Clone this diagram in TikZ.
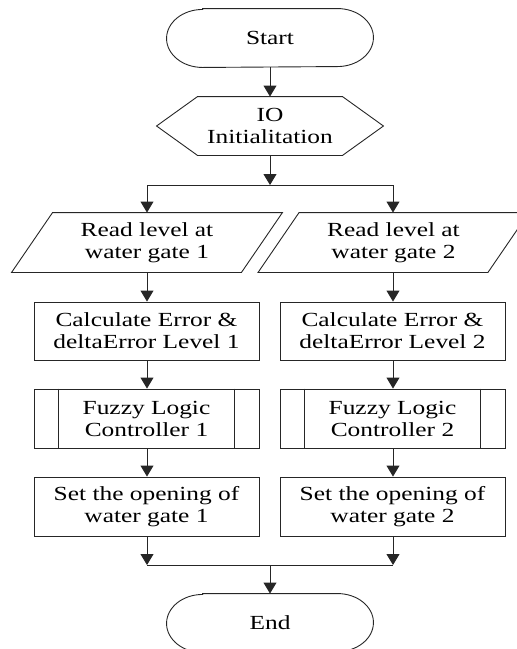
\documentclass[tikz,border=0pt]{standalone}
\usepackage{fontspec}
\setmainfont{Liberation Serif}[FakeStretch=1.27]
\usetikzlibrary{arrows.meta,calc}
\begin{document}
\begin{tikzpicture}[x=1pt,y=-1pt,
  every node/.style={font=\fontsize{20}{22}\selectfont, align=center, inner sep=0pt},
  line width=0.9pt, draw=black!85,
  termnode/.style={minimum width=206pt, minimum height=58pt},
  hexnode/.style={minimum width=226pt, minimum height=58pt},
  ionode/.style={minimum width=229pt, minimum height=59pt},
  procbox/.style={draw, minimum width=225pt, minimum height=58pt},
  arr/.style={-{Triangle[width=13pt,length=11pt]}},
  termshape/.style={insert path={
    ([xshift=36pt]#1.north west) -- ([xshift=-36pt]#1.north east)
    arc[start angle=90,end angle=-90,x radius=36pt,y radius=29pt]
    -- ([xshift=36pt]#1.south west)
    arc[start angle=270,end angle=90,x radius=36pt,y radius=29pt] -- cycle}},
  paraShape/.style={insert path={
    ([xshift=-20.5pt]#1.south west) -- ([xshift=20.5pt]#1.north west)
    -- ([xshift=20.5pt]#1.north east) -- ([xshift=-20.5pt]#1.south east) -- cycle}},
  fuzzyLines/.style={insert path={
    ([xshift=25pt]#1.north west) -- ([xshift=25pt]#1.south west)
    ([xshift=-25pt]#1.north east) -- ([xshift=-25pt]#1.south east)}}
]
\clip (0,0) rectangle (517,649);
\useasboundingbox (0,0) rectangle (517,649);

\node[termnode] (start) at (270,38) {Start};
\draw[termshape=start];

\node[hexnode] (io) at (270,126) {IO\\Initialitation};
\draw (io.west) -- ([xshift=41pt]io.north west) -- ([xshift=-41pt]io.north east)
  -- (io.east) -- ([xshift=-41pt]io.south east) -- ([xshift=41pt]io.south west) -- cycle;

\node[ionode] (r1) at (147,242.5) {Read level at\\water gate 1};
\draw[paraShape=r1];
\node[ionode] (r2) at (393.5,242.5) {Read level at\\water gate 2};
\draw[paraShape=r2];

\node[procbox] (c1) at (146.5,331) {Calculate Error \&\\deltaError Level 1};
\node[procbox] (c2) at (392.5,331) {Calculate Error \&\\deltaError Level 2};

\node[procbox, minimum height=59pt] (f1) at (146.5,418.5) {Fuzzy Logic\\Controller 1};
\draw[fuzzyLines=f1];
\node[procbox, minimum height=59pt] (f2) at (392.5,418.5) {Fuzzy Logic\\Controller 2};
\draw[fuzzyLines=f2];

\node[procbox, minimum height=59pt] (s1) at (146.5,506.5) {Set the opening of\\water gate 1};
\node[procbox, minimum height=59pt] (s2) at (392.5,506.5) {Set the opening of\\water gate 2};

\node[termnode] (end) at (270,623) {End};
\draw[termshape=end];

\coordinate (bm) at (270,185);
\coordinate (bl) at (147,185);
\coordinate (br) at (393,185);
\coordinate (jm) at (270,565);
\coordinate (jl) at (147,565);
\coordinate (jr) at (393,565);

\draw[arr] (start.south) -- (io.north);
\draw[arr] (io.south) -- (bm);
\draw (bl) -- (br);
\draw[arr] (bl) -- (bl |- r1.north);
\draw[arr] (br) -- (br |- r2.north);
\draw[arr] (bl |- r1.south) -- (bl |- c1.north);
\draw[arr] (br |- r2.south) -- (br |- c2.north);
\draw[arr] (bl |- c1.south) -- (bl |- f1.north);
\draw[arr] (br |- c2.south) -- (br |- f2.north);
\draw[arr] (bl |- f1.south) -- (bl |- s1.north);
\draw[arr] (br |- f2.south) -- (br |- s2.north);
\draw[arr] (bl |- s1.south) -- (jl);
\draw[arr] (br |- s2.south) -- (jr);
\draw (jl) -- (jr);
\draw[arr] (jm) -- (end.north);
\end{tikzpicture}
\end{document}
